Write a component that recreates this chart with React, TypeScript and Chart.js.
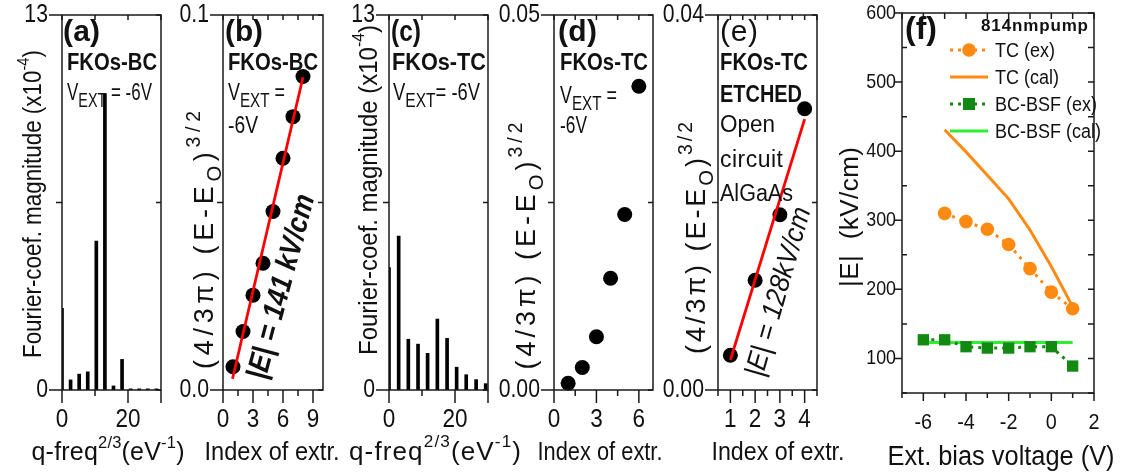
import React, { useEffect, useRef } from "react";
import { Chart, registerables } from "chart.js";
Chart.register(...registerables);

const W = 1123;
const H = 476;
const FONT = '"Liberation Sans", Arial, Helvetica, sans-serif';

// ---------- data ----------
// (a) FKOs-BC Fourier spectrum
const freqA = [0, 2.6, 5.2, 7.8, 10.4, 13, 15.6, 18.2, 20.8, 23.4, 26, 28.6];
const magA = [2.83, 0.35, 0.55, 0.63, 5.16, 10.28, 0.14, 1.06, 0.04, 0.04, 0.04, 0.04];
// (c) FKOs-TC Fourier spectrum
const freqC = [0, 2.93, 5.86, 8.8, 11.7, 14.65, 17.6, 20.5, 23.4, 26.4, 29.3];
const magC = [4.24, 5.34, 1.76, 1.59, 1.27, 2.46, 1.79, 0.79, 0.53, 0.36, 0.22];
// (b) FKOs-BC extrema
const indexB = [1, 2, 3, 4, 5, 6, 7, 8];
const valB = [0.0062, 0.0156, 0.0253, 0.0338, 0.0476, 0.0618, 0.0729, 0.0836];
const fitBx = [0.95, 8];
const fitBy = [0.003, 0.0834];
// (d) FKOs-TC extrema
const indexD = [1, 2, 3, 4, 5, 6];
const valD = [0.0009, 0.003, 0.0071, 0.0149, 0.0234, 0.0405];
// (e) FKOs-TC etched extrema
const indexE = [1, 2, 3, 4];
const valE = [0.0037, 0.0117, 0.0187, 0.03];
const fitEx = [1, 4];
const fitEy = [0.0032, 0.0289];
// (f) field vs bias
const biasTC = [-5, -4, -3, -2, -1, 0, 1];
const tcEx = [310, 298, 287, 265, 230, 196, 172];
const tcCal = [431, 399, 365, 331, 286, 233, 175];
const biasBC = [-6, -5, -4, -3, -2, -1, 0, 1];
const bcEx = [127, 127, 117, 115, 115, 117, 117, 89];
const biasBCcal = [-6, 1];
const bcCal = [123, 123];

// ---------- ticks ----------
const ticksFreqX = [0, 10, 20, 30];
const labelsFreqX = ["0", "", "20", " "];
const ticksMagY = [0, 6.5, 13];
const labelsMagY = ["0", "", "13"];
const ticksBX = [0, 1.5, 3, 4.5, 6, 7.5, 9];
const labelsBX = ["0", "", "3", "", "6", "", "9"];
const ticksBY = [0, 0.05, 0.1];
const labelsBY = ["0.0", "", "0.1"];
const ticksDX = [0, 1.5, 3, 4.5, 6];
const labelsDX = ["0", "", "3", "", "6"];
const ticksDY = [0, 0.025, 0.05];
const labelsDY = ["0.00", "", "0.05"];
const ticksEX = [0.5, 1, 1.5, 2, 2.5, 3, 3.5, 4, 4.5];
const labelsEX = ["", "1", "", "2", "", "3", "", "4", ""];
const ticksEY = [0, 0.02, 0.04];
const labelsEY = ["0.00", "", "0.04"];
const ticksFX = [-7, -6, -5, -4, -3, -2, -1, 0, 1, 2];
const labelsFX = ["", "-6", "", "-4", "", "-2", "", "0", "", "2"];
const ticksFY = [50, 100, 150, 200, 250, 300, 350, 400, 450, 500, 550, 600];
const labelsFY = ["", "100", "", "200", "", "300", "", "400", "", "500", "", "600"];

const ORANGE = "#ff8a12";
const DGREEN = "#128a12";
const LGREEN = "#2ef02e";

// ---------- text helper ----------
type Run = [string, number, number?]; // text, kind (0 normal, 1 sup, -1 sub), size factor
interface RO {
  size: number;
  bold?: boolean;
  italic?: boolean;
  align?: "left" | "center" | "right";
  rot?: number;
  width?: number;
  sx?: number;
  color?: string;
  middle?: boolean;
}
function rich(ctx: CanvasRenderingContext2D, runs: Run[], x: number, y: number, o: RO) {
  const f = (s: number) => `${o.italic ? "italic " : ""}${o.bold ? "bold " : ""}${s}px ${FONT}`;
  const sizes = runs.map(([, k, s]) => o.size * (s ?? (k ? 0.66 : 1)));
  let total = 0;
  let nch = 0;
  const ws = runs.map(([t], i) => {
    ctx.font = f(sizes[i]);
    const w = ctx.measureText(t).width;
    total += w;
    nch += t.length;
    return w;
  });
  let k = o.sx ?? 0.88;
  let ls = 0;
  if (o.width) {
    if (total > o.width) k = o.width / total;
    else {
      k = 1;
      ls = (o.width - total) / Math.max(1, nch - 1);
    }
  }
  const full = total + ls * Math.max(0, nch - 1);
  ctx.save();
  ctx.translate(x, y);
  if (o.rot) ctx.rotate(o.rot);
  ctx.scale(k, 1);
  let cx = o.align === "center" ? -full / 2 : o.align === "right" ? -full : 0;
  ctx.textAlign = "left";
  ctx.textBaseline = o.middle ? "middle" : "alphabetic";
  ctx.fillStyle = o.color || "#111";
  runs.forEach(([t, kind], i) => {
    ctx.font = f(sizes[i]);
    const dy = kind === 1 ? -o.size * 0.5 : kind === -1 ? o.size * 0.3 : 0;
    if (ls === 0) {
      ctx.fillText(t, cx, dy);
      cx += ws[i];
    } else {
      for (const ch of t) {
        ctx.fillText(ch, cx, dy);
        cx += ctx.measureText(ch).width + ls;
      }
    }
  });
  ctx.restore();
}

// ---------- panel specs ----------
interface TickStyle {
  major: number;
  minor: number;
  minorIn?: boolean;
  inner: number;
  yLabGap: number;
  yLabSize: number;
  xLabY: number;
  xLabSize: number;
}
const STYLE_AE: TickStyle = { major: 13, minor: 6, inner: 5, yLabGap: 14, yLabSize: 25, xLabY: 420, xLabSize: 25 };
const STYLE_F: TickStyle = { major: 8, minor: 5, minorIn: true, inner: 6, yLabGap: 6, yLabSize: 21, xLabY: 423, xLabSize: 22 };

interface Spec {
  type: "bar" | "scatter";
  box: { l: number; t: number; r: number; b: number };
  xr: [number, number];
  yr: [number, number];
  xt: number[];
  xl: string[];
  yt: number[];
  yl: string[];
  st: TickStyle;
  datasets: any[];
  extra: (ctx: CanvasRenderingContext2D) => void;
}

const pts = (xs: number[], ys: number[]) => xs.map((x, i) => ({ x, y: ys[i] }));
const barDs = (xs: number[], ys: number[]) => ({
  data: pts(xs, ys),
  backgroundColor: "#000",
  barThickness: 3,
  borderWidth: 0,
});
const dotDs = (xs: number[], ys: number[]) => ({
  data: pts(xs, ys),
  pointRadius: 7.5,
  pointBackgroundColor: "#000",
  pointBorderWidth: 0,
  showLine: false,
  clip: false,
});
const fitDs = (xs: number[], ys: number[]) => ({
  data: pts(xs, ys),
  showLine: true,
  borderColor: "#ff0000",
  borderWidth: 2.8,
  pointRadius: 0,
  clip: false,
});

const DEG = Math.PI / 180;
const VEXT = (ctx: CanvasRenderingContext2D, x: number, y: number, rest: string, w: number) =>
  rich(ctx, [["V", 0], ["EXT", -1, 0.85], [rest, 0]], x, y, { size: 23, width: w });
const EE: Run[] = [["(4/3\u03c0) (E-E", 0], ["O", -1, 0.75], [")", 0], ["3/2", 1, 0.72]];

const SPECS: Spec[] = [
  {
    type: "bar",
    box: { l: 62, t: 15, r: 161, b: 390 },
    xr: [0, 30],
    yr: [0, 13],
    xt: ticksFreqX,
    xl: labelsFreqX,
    yt: ticksMagY,
    yl: labelsMagY,
    st: STYLE_AE,
    datasets: [barDs(freqA, magA)],
    extra: (ctx) => {
      rich(ctx, [["(a)", 0]], 63, 41, { size: 30, bold: true, width: 37 });
      rich(ctx, [["FKOs-BC", 0]], 67, 70, { size: 23, bold: true, width: 90 });
      VEXT(ctx, 67, 100, " = -6V", 85);
      rich(ctx, [["Fourier-coef. magnitude (x10", 0], ["-4", 1], [")", 0]], 41, 204, {
        size: 25, rot: -Math.PI / 2, align: "center", width: 308,
      });
      rich(ctx, [["q-freq", 0], ["2/3", 1], ["(eV", 0], ["-1", 1], [")", 0]], 108, 460, {
        size: 25, align: "center", width: 153,
      });
    },
  },
  {
    type: "scatter",
    box: { l: 223, t: 15, r: 323, b: 390 },
    xr: [0, 10],
    yr: [0, 0.1],
    xt: ticksBX,
    xl: labelsBX,
    yt: ticksBY,
    yl: labelsBY,
    st: STYLE_AE,
    datasets: [fitDs(fitBx, fitBy), dotDs(indexB, valB)],
    extra: (ctx) => {
      rich(ctx, [["(b)", 0]], 225, 41, { size: 30, bold: true, width: 38 });
      rich(ctx, [["FKOs-BC", 0]], 228, 70, { size: 23, bold: true, width: 90 });
      VEXT(ctx, 228, 100, " =", 57);
      rich(ctx, [["-6V", 0]], 228, 133, { size: 23, width: 30 });
      rich(ctx, EE, 213, 240, { size: 27, rot: -Math.PI / 2, align: "center", width: 258 });
      rich(ctx, [["Index of extr.", 0]], 272, 460, { size: 25, align: "center", width: 135 });
      rich(ctx, [["|E| = 141 kV/cm", 0]], 282, 287, {
        size: 30, bold: true, italic: true, align: "center", rot: -75 * DEG, width: 190, middle: true,
      });
    },
  },
  {
    type: "bar",
    box: { l: 389, t: 15, r: 488, b: 390 },
    xr: [0, 30],
    yr: [0, 13],
    xt: ticksFreqX,
    xl: labelsFreqX,
    yt: ticksMagY,
    yl: labelsMagY,
    st: STYLE_AE,
    datasets: [barDs(freqC, magC)],
    extra: (ctx) => {
      rich(ctx, [["(c)", 0]], 391, 41, { size: 30, bold: true, width: 30 });
      rich(ctx, [["FKOs-TC", 0]], 392, 70, { size: 23, bold: true, width: 94 });
      VEXT(ctx, 393, 100, "= -6V", 87);
      rich(ctx, [["Fourier-coef. magnitude (x10", 0], ["-4", 1], [")", 0]], 377, 190, {
        size: 26, rot: -Math.PI / 2, align: "center", width: 330,
      });
      rich(ctx, [["q-freq", 0], ["2/3", 1], ["(eV", 0], ["-1", 1], [")", 0]], 435, 460, {
        size: 26, align: "center", width: 172,
      });
    },
  },
  {
    type: "scatter",
    box: { l: 554, t: 15, r: 653, b: 390 },
    xr: [0, 7],
    yr: [0, 0.05],
    xt: ticksDX,
    xl: labelsDX,
    yt: ticksDY,
    yl: labelsDY,
    st: STYLE_AE,
    datasets: [dotDs(indexD, valD)],
    extra: (ctx) => {
      rich(ctx, [["(d)", 0]], 558, 41, { size: 30, bold: true, width: 39 });
      rich(ctx, [["FKOs-TC", 0]], 560, 70, { size: 23, bold: true, width: 88 });
      VEXT(ctx, 560, 103, " =", 57);
      rich(ctx, [["-6V", 0]], 560, 133, { size: 23, width: 27 });
      rich(ctx, EE, 535, 246, { size: 27, rot: -Math.PI / 2, align: "center", width: 247 });
      rich(ctx, [["Index of extr.", 0]], 600, 460, { size: 25, align: "center", width: 125 });
    },
  },
  {
    type: "scatter",
    box: { l: 718, t: 15, r: 817, b: 390 },
    xr: [0.5, 4.5],
    yr: [0, 0.04],
    xt: ticksEX,
    xl: labelsEX,
    yt: ticksEY,
    yl: labelsEY,
    st: STYLE_AE,
    datasets: [fitDs(fitEx, fitEy), dotDs(indexE, valE)],
    extra: (ctx) => {
      rich(ctx, [["(e)", 0]], 720, 41, { size: 30, width: 38 });
      rich(ctx, [["FKOs-TC", 0]], 720, 70, { size: 23, bold: true, width: 88 });
      rich(ctx, [["ETCHED", 0]], 720, 102, { size: 23, bold: true, width: 82 });
      rich(ctx, [["Open", 0]], 720, 132, { size: 23, width: 55 });
      rich(ctx, [["circuit", 0]], 720, 167, { size: 23, width: 63 });
      rich(ctx, [["AlGaAs", 0]], 720, 201, { size: 23, width: 73 });
      rich(ctx, EE, 705, 238, { size: 27, rot: -Math.PI / 2, align: "center", width: 232 });
      rich(ctx, [["Index of extr.", 0]], 778, 460, { size: 25, align: "center", width: 133 });
      rich(ctx, [["|E| = 128kV/cm", 0]], 779, 292, {
        size: 28, italic: true, align: "center", rot: -74 * DEG, width: 175, middle: true,
      });
    },
  },
  {
    type: "scatter",
    box: { l: 902, t: 13, r: 1094, b: 393 },
    xr: [-7, 2],
    yr: [50, 600],
    xt: ticksFX,
    xl: labelsFX,
    yt: ticksFY,
    yl: labelsFY,
    st: STYLE_F,
    datasets: [
      {
        data: pts(biasBC, bcEx), showLine: true, borderColor: DGREEN, borderWidth: 3, borderDash: [3, 5],
        pointStyle: "rect", pointRadius: 8, pointBackgroundColor: DGREEN, pointBorderWidth: 0, clip: false,
      },
      {
        data: pts(biasTC, tcEx), showLine: true, borderColor: ORANGE, borderWidth: 3, borderDash: [3, 5],
        pointStyle: "circle", pointRadius: 6.8, pointBackgroundColor: ORANGE, pointBorderWidth: 0, clip: false,
      },
      { data: pts(biasBCcal, bcCal), showLine: true, borderColor: LGREEN, borderWidth: 3, pointRadius: 0 },
      { data: pts(biasTC, tcCal), showLine: true, borderColor: ORANGE, borderWidth: 3, pointRadius: 0, tension: 0 },
    ],
    extra: (ctx) => {
      rich(ctx, [["(f)", 0]], 905, 39, { size: 32, bold: true, width: 32 });
      rich(ctx, [["|E|  (kV/cm)", 0]], 858, 217, { size: 26, rot: -Math.PI / 2, align: "center", width: 140 });
      rich(ctx, [["Ext. bias voltage (V)", 0]], 1001, 465, { size: 27, align: "center", width: 227 });
      // legend
      rich(ctx, [["814nmpump", 0]], 981, 31, { size: 17, bold: true, width: 107 });
      const items: [string, string, boolean, string][] = [
        ["TC (ex)", ORANGE, true, "circle"],
        ["TC (cal)", ORANGE, false, ""],
        ["BC-BSF (ex)", DGREEN, true, "rect"],
        ["BC-BSF (cal)", LGREEN, false, ""],
      ];
      const ys = [50, 77, 104, 131];
      items.forEach(([t, c, dotted, m], i) => {
        const y = ys[i];
        ctx.save();
        ctx.strokeStyle = c;
        ctx.lineWidth = 3;
        ctx.setLineDash(dotted ? [3, 5] : []);
        ctx.beginPath();
        ctx.moveTo(950, y);
        ctx.lineTo(988, y);
        ctx.stroke();
        ctx.fillStyle = c;
        if (m === "circle") {
          ctx.beginPath();
          ctx.arc(969, y, 6.8, 0, Math.PI * 2);
          ctx.fill();
        } else if (m === "rect") {
          ctx.fillRect(963, y - 6, 12, 12);
        }
        ctx.restore();
        rich(ctx, [[t, 0]], 995, y + 7, { size: 20, sx: 0.9 });
      });
    },
  },
];

function decor(spec: Spec) {
  return {
    id: "decor",
    afterDraw(chart: any) {
      const ctx: CanvasRenderingContext2D = chart.ctx;
      const { left, top, right, bottom } = chart.chartArea;
      const xs = chart.scales.x;
      const ys = chart.scales.y;
      const st = spec.st;
      ctx.save();
      ctx.strokeStyle = "#1a1a1a";
      ctx.lineWidth = 1.5;
      ctx.strokeRect(left, top, right - left, bottom - top);
      ctx.beginPath();
      spec.xt.forEach((v, i) => {
        const p = xs.getPixelForValue(v);
        const major = spec.xl[i] !== "";
        ctx.moveTo(p, bottom);
        ctx.lineTo(p, bottom + (major ? st.major : st.minor));
        ctx.moveTo(p, top);
        ctx.lineTo(p, top + st.inner);
      });
      spec.yt.forEach((v, i) => {
        const p = ys.getPixelForValue(v);
        const major = spec.yl[i] !== "";
        if (major) {
          ctx.moveTo(left - st.major, p);
          ctx.lineTo(left, p);
        } else if (st.minorIn) {
          ctx.moveTo(left, p);
          ctx.lineTo(left + st.minor, p);
        } else {
          ctx.moveTo(left - st.minor, p);
          ctx.lineTo(left, p);
        }
        ctx.moveTo(right - st.inner, p);
        ctx.lineTo(right, p);
      });
      ctx.stroke();
      ctx.restore();
      spec.xt.forEach((v, i) => {
        const t = spec.xl[i].trim();
        if (!t) return;
        rich(ctx, [[t, 0]], xs.getPixelForValue(v), st.xLabY, { size: st.xLabSize, align: "center", middle: true, sx: 0.9 });
      });
      spec.yt.forEach((v, i) => {
        const t = spec.yl[i].trim();
        if (!t) return;
        rich(ctx, [[t, 0]], left - st.yLabGap, ys.getPixelForValue(v), { size: st.yLabSize, align: "right", middle: true, sx: 0.85 });
      });
      spec.extra(ctx);
    },
  };
}

function build(canvas: HTMLCanvasElement, spec: Spec) {
  return new Chart(canvas, {
    type: spec.type,
    data: { datasets: spec.datasets },
    options: {
      responsive: false,
      animation: false,
      devicePixelRatio: 1,
      events: [],
      layout: {
        padding: { left: spec.box.l, top: spec.box.t, right: W - spec.box.r, bottom: H - spec.box.b },
      },
      scales: {
        x: { type: "linear", min: spec.xr[0], max: spec.xr[1], display: false, offset: false, grid: { offset: false } },
        y: { type: "linear", min: spec.yr[0], max: spec.yr[1], display: false },
      },
      plugins: { legend: { display: false }, tooltip: { enabled: false } },
    } as any,
    plugins: [decor(spec)],
  });
}

export default function App() {
  const refs = useRef<(HTMLCanvasElement | null)[]>([]);
  useEffect(() => {
    const charts = SPECS.map((s, i) => build(refs.current[i] as HTMLCanvasElement, s));
    return () => charts.forEach((c) => c.destroy());
  }, []);
  return (
    <div style={{ position: "fixed", left: 0, top: 0, width: W, height: H, background: "#fff", overflow: "hidden" }}>
      {SPECS.map((_, i) => (
        <canvas
          key={i}
          ref={(el) => {
            refs.current[i] = el;
          }}
          width={W}
          height={H}
          style={{ position: "absolute", left: 0, top: 0, width: W, height: H }}
        />
      ))}
    </div>
  );
}
